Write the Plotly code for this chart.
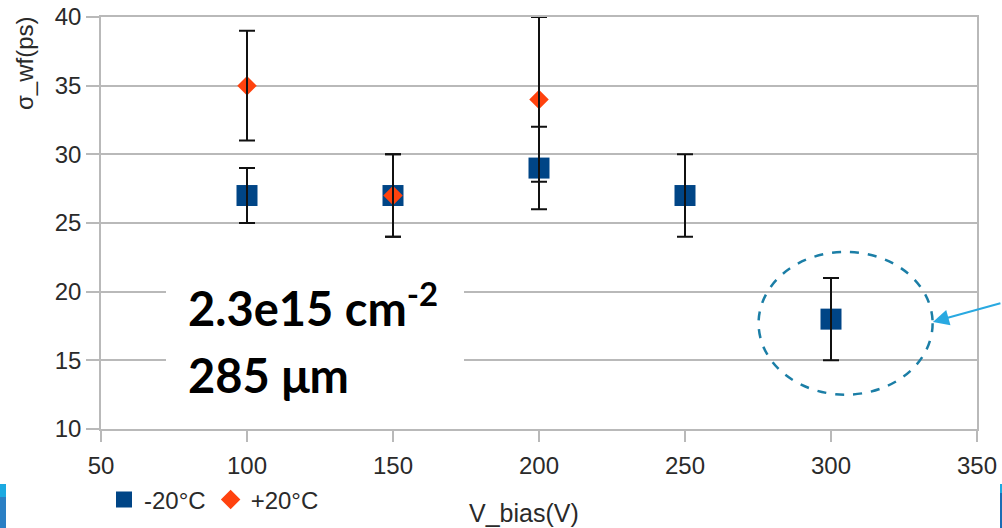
import plotly.graph_objects as go

# Timing resolution vs bias voltage, 2.3e15 cm^-2, 285 um sensor
v_cold = [100, 150, 200, 250, 300]
sigma_cold = [27, 27, 29, 27, 18]
err_cold = [2, 3, 3, 3, 3]

v_warm = [100, 150, 200]
sigma_warm = [35, 27, 34]
err_warm = [4, 3, 6]

x_ticks = [50, 100, 150, 200, 250, 300, 350]
y_ticks = [10, 15, 20, 25, 30, 35, 40]

W, H = 1002, 528
L, R, T, B = 101, 25, 17, 99
PW, PH = W - L - R, H - T - B


def px_x(p):
    return (p - L) / PW


def px_y(p):
    return (H - B - p) / PH


GRID = "#b9b9b9"
TXT = "#2a2a2a"
BASE_FONT = "Liberation Sans"

fig = go.Figure()

fig.add_trace(go.Scatter(
    x=v_cold, y=sigma_cold, mode="markers", name="-20°C",
    marker=dict(symbol="square", size=21, color="#004586"),
))
fig.add_trace(go.Scatter(
    x=v_warm, y=sigma_warm, mode="markers", name="+20°C",
    marker=dict(symbol="diamond", size=15, color="#ff420e"),
))

# error bars drawn on top of the markers
for xs, ys, es in [(v_cold, sigma_cold, err_cold), (v_warm, sigma_warm, err_warm)]:
    fig.add_trace(go.Scatter(
        x=xs, y=ys, mode="markers", showlegend=False, hoverinfo="skip",
        marker=dict(size=1, color="rgba(0,0,0,0)"),
        error_y=dict(type="data", array=es, visible=True,
                     color="#111111", thickness=2, width=8),
    ))

axis_common = dict(
    showline=True, linecolor=GRID, linewidth=1.5,
    ticks="outside", tickcolor=GRID, tickwidth=1.5,
    tickfont=dict(family=BASE_FONT, size=24, color=TXT),
    mirror=True,
)

fig.update_xaxes(
    range=[50, 350], tickvals=x_ticks, showgrid=False, ticklen=11,
    zeroline=False, ticklabelstandoff=3, **axis_common,
)
fig.update_yaxes(
    range=[10, 40], tickvals=y_ticks, showgrid=True, gridcolor=GRID,
    gridwidth=1.5, ticklen=13, zeroline=False, **axis_common,
)

shapes = [
    # white label panel
    dict(type="rect", xref="paper", yref="paper",
         x0=px_x(166), x1=px_x(464), y0=px_y(414), y1=px_y(262),
         fillcolor="white", line=dict(width=0), layer="above"),
    # dashed ring around the 300 V point
    dict(type="circle", xref="x", yref="y",
         x0=275.2, x1=334.8, y0=12.5, y1=22.9,
         line=dict(color="#1b7ea6", width=2.5, dash="dash"), layer="above"),
    # slide border strips
    dict(type="rect", xref="paper", yref="paper",
         x0=px_x(0), x1=px_x(6), y0=px_y(528), y1=px_y(497),
         fillcolor="#2a7fc4", line=dict(width=0)),
    dict(type="rect", xref="paper", yref="paper",
         x0=px_x(0), x1=px_x(6), y0=px_y(497), y1=px_y(484),
         fillcolor="#1ba9e1", line=dict(width=0)),
    dict(type="rect", xref="paper", yref="paper",
         x0=px_x(1000), x1=px_x(1002), y0=px_y(528), y1=px_y(493),
         fillcolor="#1a6db5", line=dict(width=0)),
    dict(type="rect", xref="paper", yref="paper",
         x0=px_x(1000), x1=px_x(1002), y0=px_y(493), y1=px_y(484),
         fillcolor="#1ba9e1", line=dict(width=0)),
]

annotations = [
    dict(text="σ_wf(ps)", xref="paper", yref="paper",
         x=px_x(25), y=px_y(63), textangle=-90, showarrow=False,
         font=dict(family=BASE_FONT, size=24, color=TXT),
         xanchor="center", yanchor="middle"),
    dict(text="V_bias(V)", xref="paper", yref="paper",
         x=px_x(524), y=px_y(513), showarrow=False,
         font=dict(family=BASE_FONT, size=25, color=TXT),
         xanchor="center", yanchor="middle"),
    dict(text="<b>2.3e15 cm<sup>-2</sup></b>", xref="paper", yref="paper",
         x=px_x(186), y=px_y(305), showarrow=False, xanchor="left",
         yanchor="middle", font=dict(family="Lato", size=47, color="black")),
    dict(text="<b>285 μm</b>", xref="paper", yref="paper",
         x=px_x(186), y=px_y(375), showarrow=False, xanchor="left",
         yanchor="middle", font=dict(family="Lato", size=47, color="black")),
    dict(text="", xref="x", yref="y", x=334.9, y=17.8,
         showarrow=True, ax=69, ay=-19, axref="pixel", ayref="pixel",
         arrowhead=2, arrowsize=1.6, arrowwidth=2, arrowcolor="#29a9e1",
         standoff=0),
]

fig.update_layout(
    width=W, height=H,
    margin=dict(l=L, r=R, t=T, b=B, autoexpand=False),
    paper_bgcolor="white", plot_bgcolor="white",
    showlegend=True,
    legend=dict(orientation="h", x=px_x(104), y=px_y(500),
                xanchor="left", yanchor="middle",
                font=dict(family=BASE_FONT, size=24, color=TXT),
                bgcolor="rgba(0,0,0,0)"),
    shapes=shapes,
    annotations=annotations,
)

fig.write_html("out.html")
